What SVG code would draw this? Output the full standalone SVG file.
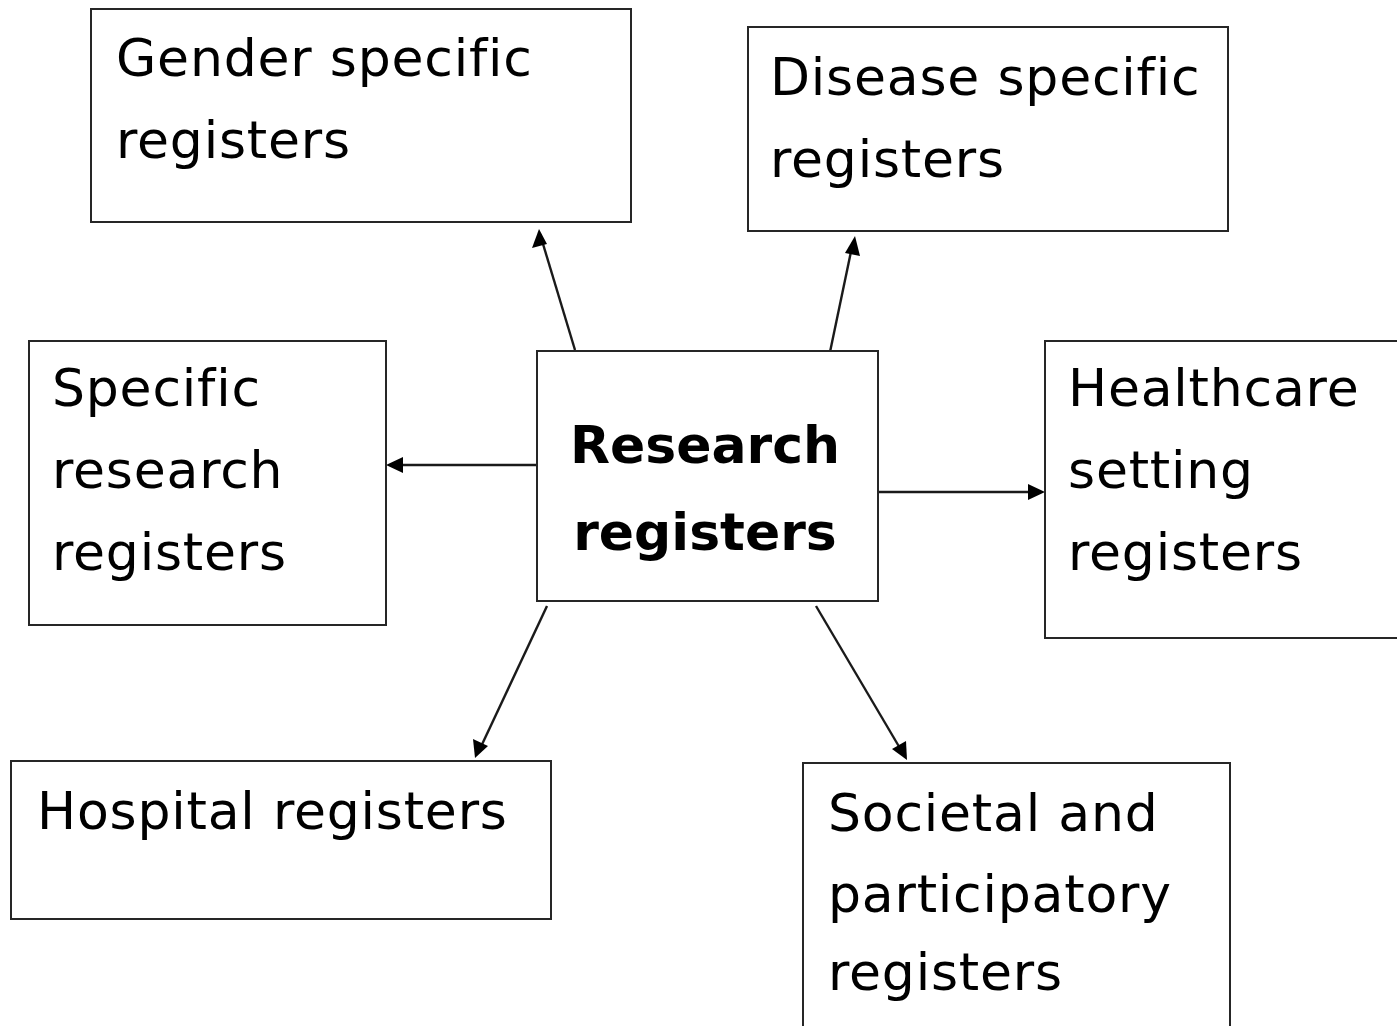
<svg xmlns="http://www.w3.org/2000/svg" width="1397" height="1026" viewBox="0 0 1397 1026">
  <style>
    .box { fill: #ffffff; stroke: #262626; stroke-width: 2; }
    .lbl { font-family: "DejaVu Sans", "Liberation Sans", sans-serif; font-size: 52px; fill: #000000; letter-spacing: 0.8px; font-variant-ligatures: none; }
    .ttl { font-family: "DejaVu Sans", "Liberation Sans", sans-serif; font-size: 52px; font-weight: bold; fill: #000000; text-anchor: middle; }
    .link { stroke: #1a1a1a; stroke-width: 2.4; fill: none; }
    .head { fill: #000000; }
  </style>
  <rect width="1397" height="1026" fill="#ffffff"/>

  <!-- arrows from the central box out to each register type -->
  <g id="connectors">
    <line class="link" x1="575" y1="350" x2="540" y2="234"/>
    <path class="head" d="M539,229 L532,248 L547,244 z"/>
    <line class="link" x1="830" y1="352" x2="853" y2="242"/>
    <path class="head" d="M855,236 L845,253 L860,256 z"/>
    <line class="link" x1="537" y1="465" x2="390" y2="465"/>
    <path class="head" d="M386,465 L403,457 L403,473 z"/>
    <line class="link" x1="878" y1="492" x2="1040" y2="492"/>
    <path class="head" d="M1045,492 L1028,484 L1028,500 z"/>
    <line class="link" x1="547" y1="606" x2="478" y2="753"/>
    <path class="head" d="M475,758 L473,739 L488,746 z"/>
    <line class="link" x1="816" y1="606" x2="904" y2="755"/>
    <path class="head" d="M907,760 L892,749 L906,741 z"/>
  </g>

  <g id="gender">
    <rect class="box" x="91" y="9" width="540" height="213"/>
    <text class="lbl" x="116" y="76">Gender specific</text>
    <text class="lbl" x="116" y="158">registers</text>
  </g>

  <g id="disease">
    <rect class="box" x="748" y="27" width="480" height="204"/>
    <text class="lbl" x="770" y="95">Disease specific</text>
    <text class="lbl" x="770" y="177">registers</text>
  </g>

  <g id="specific-research">
    <rect class="box" x="29" y="341" width="357" height="284"/>
    <text class="lbl" x="52" y="406">Specific</text>
    <text class="lbl" x="52" y="488">research</text>
    <text class="lbl" x="52" y="570">registers</text>
  </g>

  <g id="research">
    <rect class="box" x="537" y="351" width="341" height="250"/>
    <text class="ttl" x="705" y="463">Research</text>
    <text class="ttl" x="705" y="550">registers</text>
  </g>

  <g id="healthcare">
    <rect class="box" x="1045" y="341" width="360" height="297"/>
    <text class="lbl" x="1068" y="406">Healthcare</text>
    <text class="lbl" x="1068" y="488">setting</text>
    <text class="lbl" x="1068" y="570">registers</text>
  </g>

  <g id="hospital">
    <rect class="box" x="11" y="761" width="540" height="158"/>
    <text class="lbl" x="37" y="829">Hospital registers</text>
  </g>

  <g id="societal">
    <rect class="box" x="803" y="763" width="427" height="280"/>
    <text class="lbl" x="828" y="831">Societal and</text>
    <text class="lbl" x="828" y="912">participatory</text>
    <text class="lbl" x="828" y="990">registers</text>
  </g>
</svg>
